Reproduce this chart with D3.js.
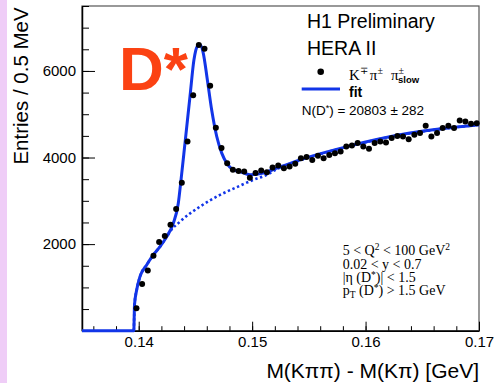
<!DOCTYPE html>
<html>
<head>
<meta charset="utf-8">
<title>D* signal</title>
<script src="https://cdn.jsdelivr.net/npm/d3@7"></script>
<style>
	body, html {
		margin: 0;
		padding: 0;
		background: #fff;
	}
	svg text {
		font-family: 'Liberation Sans', Arial, sans-serif;
	}
	svg text.serif {
		font-family: 'Liberation Serif', 'Times New Roman', serif;
	}
</style>
</head>
<body>
<svg id="chart" width="498" height="383"></svg>
<script>
	// histogram bins (M(Kpipi)-M(Kpi) bin centres, GeV) and entries per 0.5 MeV
	var binMass = [
		0.1398, 0.1403, 0.1408, 0.1413, 0.1418, 0.1423, 0.1428, 0.1433, 0.1438, 0.1443,
		0.1448, 0.1453, 0.1458, 0.1463, 0.1468, 0.1473, 0.1478, 0.1483, 0.1488, 0.1493,
		0.1498, 0.1503, 0.1508, 0.1513, 0.1518, 0.1523, 0.1528, 0.1533, 0.1538, 0.1543,
		0.1548, 0.1553, 0.1558, 0.1563, 0.1568, 0.1573, 0.1578, 0.1583, 0.1588, 0.1593,
		0.1598, 0.1603, 0.1608, 0.1613, 0.1618, 0.1623, 0.1628, 0.1633, 0.1638, 0.1643,
		0.1648, 0.1653, 0.1658, 0.1663, 0.1668, 0.1673, 0.1678, 0.1683, 0.1688, 0.1693,
		0.1698
	];
	var binEntries = [
		520, 1080, 1390, 1730, 2050, 2190, 2450, 2810, 3420, 4370,
		5440, 6600, 6510, 5660, 4690, 4220, 3870, 3720, 3690, 3680,
		3530, 3640, 3700, 3660, 3770, 3815, 3755, 3790, 3855, 3985,
		4010, 3945, 4040, 3985, 4060, 4100, 4140, 4255, 4275, 4335,
		4255, 4200, 4335, 4370, 4345, 4450, 4500, 4485, 4425, 4525,
		4565, 4735, 4485, 4565, 4680, 4735, 4680, 4855, 4830, 4780,
		4790
	];

	// total fit
	var fitMass = [0.135, 0.13957, 0.1396, 0.13963, 0.13982, 0.14011, 0.1407, 0.14129, 0.14188, 0.14247,
		0.14305, 0.14349, 0.14373, 0.14408, 0.14452, 0.14487, 0.14516, 0.1454, 0.14569, 0.14605,
		0.14643, 0.14688, 0.14732, 0.14776, 0.14834, 0.14893, 0.1494, 0.14981, 0.15098, 0.15217,
		0.15422, 0.15863, 0.16303, 0.16744, 0.17];
	var fitEntries = [0, 0, 300, 600, 941, 1248, 1519, 1750, 1942, 2173,
		2483, 2945, 3484, 4333, 5410, 6259, 6566, 6605, 6413, 5796,
		5103, 4485, 4102, 3870, 3715, 3676, 3630, 3600, 3639, 3755,
		3947, 4270, 4525, 4687, 4756];

	// background part of the fit (dotted)
	var bkgMass = [0.13957, 0.1396, 0.13963, 0.13982, 0.14011, 0.1407, 0.14129, 0.14188, 0.14247, 0.14276,
		0.14364, 0.1454, 0.14717, 0.14864, 0.1501, 0.15128, 0.15217, 0.15422, 0.15863, 0.16303,
		0.16744, 0.17];
	var bkgEntries = [0, 300, 600, 941, 1248, 1519, 1750, 1942, 2173, 2289,
		2520, 2867, 3137, 3315, 3484, 3600, 3730, 3935, 4262, 4520,
		4684, 4754];

	var xMajorTicks = [0.14, 0.15, 0.16, 0.17];
	var yMajorTicks = [0, 2000, 4000, 6000];
	var xDomain = [0.135, 0.17];
	var yDomain = [0, 7500];

	var svg = d3.select('#chart'),
		frameLeft = 82, frameRight = 479, frameTop = 6, frameBottom = 330.7,
		blue = '#1235e8';

	var x = d3.scaleLinear().domain(xDomain).range([frameLeft, frameRight]),
		y = d3.scaleLinear().domain(yDomain).range([frameBottom, frameTop]);

	// lilac strip on the far left
	svg.append('rect').attr('x', 0).attr('y', 0).attr('width', 7).attr('height', 383).attr('fill', '#efcdf7');

	// frame
	svg.append('rect').attr('x', frameLeft).attr('y', frameTop)
		.attr('width', frameRight - frameLeft).attr('height', frameBottom - frameTop)
		.attr('fill', 'none').attr('stroke', '#555').attr('stroke-width', 1.2);

	// y axis: major + minor ticks pointing inwards
	var yMinor = d3.range(0, 7501, 500);
	svg.append('g').attr('transform', 'translate(' + frameLeft + ',0)')
		.call(d3.axisLeft(y).tickValues(yMinor).tickSizeInner(-7).tickSizeOuter(0).tickFormat(''))
		.call(function (g) { g.select('.domain').remove(); });
	var yAxis = svg.append('g').attr('transform', 'translate(' + frameLeft + ',0)')
		.call(d3.axisLeft(y).tickValues(yMajorTicks).tickSizeInner(-13).tickSizeOuter(0).tickPadding(6)
			.tickFormat(function (d) { return d === 0 ? '' : d; }));
	yAxis.select('.domain').attr('stroke-width', 1.5);
	yAxis.selectAll('text').style('font-size', '15px').attr('fill', '#000');

	// x axis
	var xMinor = d3.range(0, 18).map(function (i) { return +(0.136 + i * 0.002).toFixed(3); });
	svg.append('g').attr('transform', 'translate(0,' + frameBottom + ')')
		.call(d3.axisBottom(x).tickValues(xMinor).tickSizeInner(-4.5).tickSizeOuter(0).tickFormat(''))
		.call(function (g) { g.select('.domain').remove(); });
	var xAxis = svg.append('g').attr('transform', 'translate(0,' + frameBottom + ')')
		.call(d3.axisBottom(x).tickValues(xMajorTicks).tickSizeInner(-9).tickSizeOuter(0).tickPadding(6)
			.tickFormat(d3.format('.2f')));
	xAxis.select('.domain').attr('stroke-width', 1.5);
	xAxis.selectAll('text').style('font-size', '15px').attr('fill', '#000');

	// axis titles
	svg.append('text')
		.attr('transform', 'translate(28,86) rotate(-90)')
		.attr('text-anchor', 'middle')
		.style('font-size', '20.5px')
		.text('Entries / 0.5 MeV');
	svg.append('text')
		.attr('x', 479).attr('y', 378)
		.attr('text-anchor', 'end')
		.style('font-size', '21px')
		.text('M(K\u03c0\u03c0) - M(K\u03c0) [GeV]');

	// background (dotted), then total fit, then data
	var bkgLine = d3.line()
		.x(function (d, i) { return x(bkgMass[i]); })
		.y(function (d) { return y(d); })
		.curve(d3.curveMonotoneX);
	svg.append('path').attr('d', bkgLine(bkgEntries))
		.attr('fill', 'none').attr('stroke', blue).attr('stroke-width', 2.6)
		.attr('stroke-dasharray', '2.4,2.6');

	var fitLine = d3.line()
		.x(function (d, i) { return x(fitMass[i]); })
		.y(function (d) { return y(d); })
		.curve(d3.curveMonotoneX);
	svg.append('path').attr('d', fitLine(fitEntries))
		.attr('fill', 'none').attr('stroke', blue).attr('stroke-width', 3)
		.attr('stroke-linejoin', 'round');

	svg.append('g').selectAll('circle')
		.data(binEntries)
		.enter().append('circle')
		.attr('cx', function (d, i) { return x(binMass[i]); })
		.attr('cy', function (d) { return y(d); })
		.attr('r', 3)
		.attr('fill', '#000');

	// big D* label
	svg.append('text').attr('x', 119).attr('y', 90)
		.style('font-size', '62px').style('font-weight', 'bold')
		.attr('fill', '#fb4213')
		.text('D*');

	// legend
	svg.append('text').attr('x', 307).attr('y', 28.3).style('font-size', '19.5px').text('H1 Preliminary');
	svg.append('text').attr('x', 307).attr('y', 55).style('font-size', '19.5px').text('HERA II');

	svg.append('circle').attr('cx', 320.7).attr('cy', 71.7).attr('r', 3.3).attr('fill', '#000');
	var dec = svg.append('text').attr('class', 'serif').attr('x', 349).attr('y', 80).style('font-size', '15px');
	dec.append('tspan').text('K');
	dec.append('tspan').attr('dy', -6).style('font-size', '10px').text('\u2213');
	dec.append('tspan').attr('dy', 6).attr('dx', 2).text('\u03c0');
	dec.append('tspan').attr('dy', -6).style('font-size', '10px').text('\u00b1');
	dec.append('tspan').attr('dy', 6).attr('dx', 8).text('\u03c0');
	dec.append('tspan').attr('dy', -6).style('font-size', '10px').text('\u00b1');
	dec.append('tspan').attr('dy', 9).attr('dx', -6)
		.style('font-size', '9.5px').style('font-weight', 'bold')
		.style('font-family', "'Liberation Sans', Arial, sans-serif")
		.text('slow');

	svg.append('line').attr('x1', 301.7).attr('x2', 340).attr('y1', 89).attr('y2', 89)
		.attr('stroke', blue).attr('stroke-width', 3);
	svg.append('text').attr('x', 349).attr('y', 96.7)
		.style('font-size', '14px').style('font-weight', 'bold').text('fit');

	var nd = svg.append('text').attr('x', 301.7).attr('y', 114.5).style('font-size', '13.5px');
	nd.append('tspan').text('N(D');
	nd.append('tspan').attr('dy', -4).style('font-size', '9px').text('*');
	nd.append('tspan').attr('dy', 4).text(')  =  20803 \u00b1 282');

	// cuts
	var cutY = [255, 268.5, 282, 295];
	var c1 = svg.append('text').attr('class', 'serif').attr('x', 342.7).attr('y', cutY[0]).style('font-size', '14px');
	c1.append('tspan').text('5 < Q');
	c1.append('tspan').attr('dy', -5).style('font-size', '9.5px').text('2');
	c1.append('tspan').attr('dy', 5).text(' < 100 GeV');
	c1.append('tspan').attr('dy', -5).style('font-size', '9.5px').text('2');

	svg.append('text').attr('class', 'serif').attr('x', 342.7).attr('y', cutY[1]).style('font-size', '14px')
		.text('0.02 < y < 0.7');

	var c3 = svg.append('text').attr('class', 'serif').attr('x', 342.7).attr('y', cutY[2]).style('font-size', '14px');
	c3.append('tspan').text('|\u03b7 (D');
	c3.append('tspan').attr('dy', -4).style('font-size', '9.5px').text('*');
	c3.append('tspan').attr('dy', 4).text(')| < 1.5');

	var c4 = svg.append('text').attr('class', 'serif').attr('x', 342.7).attr('y', cutY[3]).style('font-size', '14px');
	c4.append('tspan').text('p');
	c4.append('tspan').attr('dy', 3).style('font-size', '9.5px').text('T');
	c4.append('tspan').attr('dy', -3).text(' (D');
	c4.append('tspan').attr('dy', -4).style('font-size', '9.5px').text('*');
	c4.append('tspan').attr('dy', 4).text(') > 1.5 GeV');
</script>
</body>
</html>
